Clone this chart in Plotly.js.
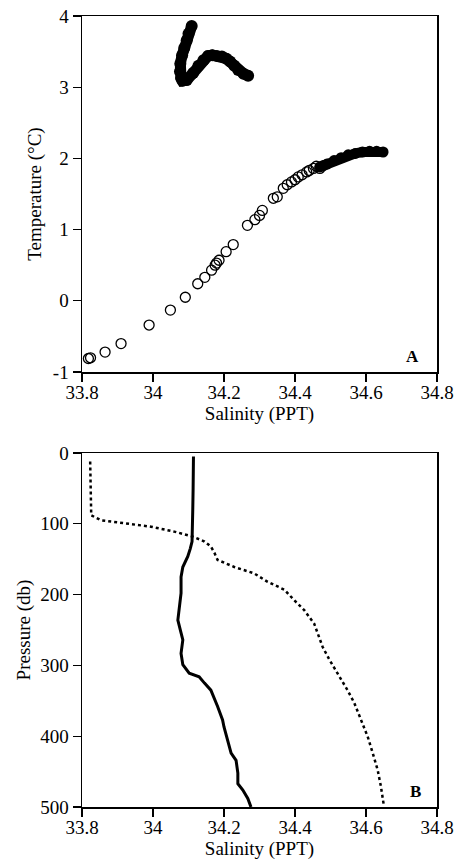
<!DOCTYPE html>
<html>
<head>
<meta charset="utf-8">
<script src="https://cdn.plot.ly/plotly-3.0.1.min.js"></script>
<style>html,body{margin:0;padding:0;background:#fff;}#chart{width:462px;height:862px;}</style>
</head>
<body>
<div id="chart"></div>
<script>
// Panel A: T-S diagram
// open circles (cold, lower water)
var openSal = [33.818, 33.824, 33.865, 33.91, 33.989, 34.049, 34.091, 34.126, 34.146, 34.165, 34.175, 34.179, 34.186, 34.206, 34.226, 34.266, 34.287, 34.30, 34.308, 34.339, 34.35, 34.367, 34.378, 34.39, 34.40, 34.409, 34.42, 34.433, 34.44, 34.452, 34.46, 34.47, 34.48];
var openTemp = [-0.81, -0.80, -0.72, -0.60, -0.34, -0.13, 0.05, 0.24, 0.33, 0.43, 0.50, 0.53, 0.57, 0.69, 0.79, 1.06, 1.14, 1.20, 1.27, 1.44, 1.46, 1.58, 1.63, 1.67, 1.70, 1.74, 1.77, 1.81, 1.83, 1.86, 1.89, 1.86, 1.90];
// dense (solid-looking) segment at high salinity
var denseSal = [34.47, 34.49, 34.51, 34.53, 34.55, 34.57, 34.59, 34.61, 34.63, 34.648];
var denseTemp = [1.88, 1.92, 1.97, 2.01, 2.05, 2.07, 2.09, 2.10, 2.10, 2.09];
// upper (warm) cluster
var warmSal = [34.109, 34.100, 34.095, 34.088, 34.082, 34.077, 34.076, 34.079, 34.083, 34.095, 34.113, 34.128, 34.142, 34.155, 34.167, 34.18, 34.194, 34.207, 34.217, 34.229, 34.24, 34.255, 34.268];
var warmTemp = [3.86, 3.75, 3.66, 3.55, 3.45, 3.33, 3.22, 3.13, 3.09, 3.10, 3.20, 3.30, 3.38, 3.44, 3.45, 3.44, 3.43, 3.40, 3.36, 3.30, 3.24, 3.19, 3.16];

// Panel B: salinity profiles
var solidPres = [5, 20, 50, 80, 109, 125, 135, 146, 161, 175, 198, 217, 236, 254, 264, 283, 299, 311, 316, 325, 335, 358, 377, 387, 405, 424, 434, 452, 467, 476, 488, 500];
var solidSal = [34.114, 34.113, 34.113, 34.112, 34.111, 34.11, 34.105, 34.098, 34.084, 34.079, 34.079, 34.074, 34.07, 34.079, 34.084, 34.079, 34.084, 34.102, 34.13, 34.145, 34.163, 34.182, 34.196, 34.20, 34.21, 34.22, 34.234, 34.239, 34.239, 34.253, 34.267, 34.276];
var dotPres = [12, 50, 88, 95, 100, 104, 111, 118, 125, 132, 141, 151, 161, 170, 182, 193, 208, 222, 241, 255, 274, 292, 311, 335, 353, 377, 401, 424, 448, 471, 497];
var dotSal = [33.823, 33.824, 33.826, 33.854, 33.929, 33.994, 34.06, 34.112, 34.145, 34.163, 34.173, 34.182, 34.229, 34.285, 34.323, 34.37, 34.398, 34.426, 34.454, 34.464, 34.478, 34.497, 34.52, 34.548, 34.567, 34.586, 34.605, 34.619, 34.633, 34.642, 34.65];

var tempTicks = [-1, 0, 1, 2, 3, 4];
var tempTickText = ['-1', '0', '1', '2', '3', '4'];
var presTicks = [0, 100, 200, 300, 400, 500];

var FONT = '"Liberation Serif", "Times New Roman", serif';
var FS = 19;

var traces = [
  {x: openSal, y: openTemp, xaxis: 'x', yaxis: 'y', mode: 'markers', type: 'scatter',
   marker: {symbol: 'circle-open', size: 10, color: '#000', line: {width: 1.3, color: '#000'}}},
  {x: denseSal, y: denseTemp, xaxis: 'x', yaxis: 'y', mode: 'lines+markers', type: 'scatter',
   line: {color: '#000', width: 10}, marker: {size: 11, color: '#000'}},
  {x: warmSal, y: warmTemp, xaxis: 'x', yaxis: 'y', mode: 'lines+markers', type: 'scatter',
   line: {color: '#000', width: 11}, marker: {size: 12, color: '#000'}},
  {x: solidSal, y: solidPres, xaxis: 'x2', yaxis: 'y2', mode: 'lines', type: 'scatter',
   line: {color: '#000', width: 3}},
  {x: dotSal, y: dotPres, xaxis: 'x2', yaxis: 'y2', mode: 'lines', type: 'scatter',
   line: {color: '#000', width: 2.5, dash: 'dot'}}
];

function xax(anchor) {
  return {
    anchor: anchor, range: [33.8, 34.8], tick0: 33.8, dtick: 0.2,
    ticks: 'outside', ticklen: 8, tickwidth: 1.3, tickcolor: '#000',
    ticklabelstandoff: -5,
    showline: true, linecolor: '#000', linewidth: 1.5, mirror: true,
    showgrid: false, zeroline: false,
    tickfont: {family: FONT, size: FS, color: '#000'},
    title: {text: 'Salinity (PPT)', font: {family: FONT, size: FS, color: '#000'}, standoff: 4}
  };
}

var layout = {
  width: 462, height: 862,
  margin: {l: 82, r: 25, t: 16, b: 55},
  paper_bgcolor: '#fff', plot_bgcolor: '#fff',
  showlegend: false,
  font: {family: FONT, color: '#000'},
  xaxis: xax('y'),
  xaxis2: xax('y2'),
  yaxis: {
    domain: [0.5499, 1], anchor: 'x', range: [-1, 4],
    tickvals: tempTicks, ticktext: tempTickText,
    ticks: 'outside', ticklen: 8, tickwidth: 1.3, tickcolor: '#000',
    showline: true, linecolor: '#000', linewidth: 1.5, mirror: true,
    showgrid: false, zeroline: false,
    tickfont: {family: FONT, size: FS, color: '#000'},
    title: {text: 'Temperature (°C)', font: {family: FONT, size: FS, color: '#000'}, standoff: 6}
  },
  yaxis2: {
    domain: [0, 0.4475], anchor: 'x2', range: [500, 0],
    tickvals: presTicks,
    ticks: 'outside', ticklen: 8, tickwidth: 1.3, tickcolor: '#000',
    showline: true, linecolor: '#000', linewidth: 1.5, mirror: true,
    showgrid: false, zeroline: false,
    tickfont: {family: FONT, size: FS, color: '#000'},
    title: {text: 'Pressure (db)', font: {family: FONT, size: FS, color: '#000'}, standoff: 4}
  },
  annotations: [
    {text: '<b>A</b>', xref: 'x domain', yref: 'y domain', x: 0.955, y: 0.012, showarrow: false,
     font: {family: FONT, size: 17, color: '#000'}},
    {text: '<b>B</b>', xref: 'x2 domain', yref: 'y2 domain', x: 0.96, y: 0.012, showarrow: false,
     font: {family: FONT, size: 17, color: '#000'}}
  ]
};

Plotly.newPlot('chart', traces, layout, {displayModeBar: false, staticPlot: true});
</script>
</body>
</html>
